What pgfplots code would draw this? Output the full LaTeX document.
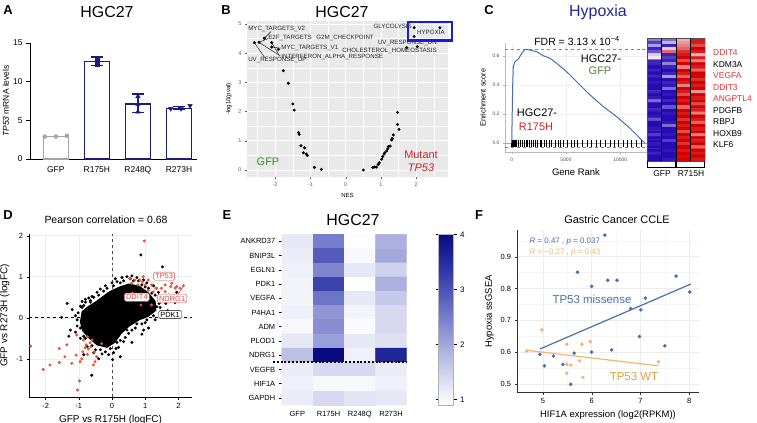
\documentclass[border=0pt]{standalone}
\usepackage{fontspec}
\setmainfont{Liberation Sans}
\usepackage{pgfplots}
\pgfplotsset{compat=1.18}
\newcommand{\fs}[1]{\fontsize{#1}{#1}\selectfont}
\definecolor{navyA}{RGB}{28,28,125}
\definecolor{grayA}{RGB}{165,165,165}
\definecolor{ggbg}{RGB}{233,233,233}
\definecolor{boxblue}{RGB}{25,25,225}
\definecolor{gfpgreen}{RGB}{40,150,40}
\definecolor{mutred}{RGB}{205,35,35}
\definecolor{hypblue}{RGB}{35,35,160}
\definecolor{olivegreen}{RGB}{80,125,50}
\definecolor{curveblue}{RGB}{70,110,175}
\definecolor{dashred}{RGB}{235,90,90}
\definecolor{genered}{RGB}{235,45,45}
\definecolor{ptred}{RGB}{232,80,55}
\definecolor{lblred}{RGB}{230,70,70}
\definecolor{fblue}{RGB}{72,112,170}
\definecolor{forange}{RGB}{245,180,110}
\definecolor{fwt}{RGB}{215,160,60}
\pgfplotsset{/pgf/number format/assume math mode=true}
\begin{document}
\begin{tikzpicture}
\path[use as bounding box] (0,0) rectangle (757bp,-423bp);
% panel letters
\node[font=\fs{13}\bfseries] at (8bp,-10bp) {A};
\node[font=\fs{13}\bfseries] at (226bp,-10bp) {B};
\node[font=\fs{13}\bfseries] at (489bp,-10bp) {C};
\node[font=\fs{13}\bfseries] at (8bp,-215bp) {D};
\node[font=\fs{13}\bfseries] at (227bp,-215bp) {E};
\node[font=\fs{13}\bfseries] at (479bp,-215bp) {F};
% ---------------- A ----------------
\node[font=\fs{16}] at (107bp,-12bp) {HGC27};
\begin{axis}[at={(30bp,-159bp)}, anchor=south west, scale only axis,
  width=167bp, height=116bp, xmin=-0.63, xmax=3.44, ymin=0, ymax=15,
  axis x line*=bottom, axis y line*=left,
  axis line style={line width=0.9bp, -},
  xtick={0,1,2,3}, xticklabels={GFP,R175H,R248Q,R273H},
  major x tick style={draw=none},
  ytick={0,5,10,15}, tick align=outside, major tick length=4bp,
  tick style={line width=0.9bp, black},
  tick label style={font=\fs{8.5}},
  ylabel={\textit{TP53} mRNA levels},
  ylabel style={font=\fs{8.5}, at={(axis description cs:-0.145,0.5)}, anchor=center},
  clip=false]
\addplot[ybar, bar width=25bp, bar shift=0pt, draw=grayA, fill=white, line width=1.6bp] coordinates {(0,2.9)};
\addplot[ybar, bar width=25bp, bar shift=0pt, draw=navyA, fill=white, line width=1.6bp,
  error bars/.cd, y dir=both, y explicit,
  error bar style={line width=1.2bp, navyA},
  error mark options={rotate=90, mark size=6bp, line width=1.2bp, navyA}]
  coordinates {(1,12.6) += (0,0.6) -= (0,0.5) (2,7.1) += (0,1.3) -= (0,1.1) (3,6.55) += (0,0.25) -= (0,0.2)};
\addplot[only marks, mark=*, mark size=2bp, grayA] coordinates {(-0.27,2.9) (0,2.9) (0.27,3.0)};
\addplot[only marks, mark=square*, mark size=2bp, navyA] coordinates {(1,12.9) (1,12.2) (1,12.7)};
\addplot[only marks, mark=triangle*, mark size=2.6bp, navyA] coordinates {(2,8.1) (2,6.1) (2,7.1)};
\addplot[only marks, mark=triangle*, mark options={rotate=180}, mark size=2.6bp, navyA] coordinates {(2.8,6.5) (3.05,6.5) (3.27,6.9)};
\end{axis}
% ---------------- B ----------------
\node[font=\fs{16}] at (342bp,-12bp) {HGC27};
\begin{axis}[at={(247bp,-177bp)}, anchor=south west, scale only axis,
  width=201bp, height=156bp, xmin=-2.8, xmax=2.9, ymin=-0.24, ymax=5.1,
  axis line style={draw=none},
  xtick={-2,-1,0,1,2}, ytick={0,1,2,3,4,5},
  xtick pos=bottom, ytick pos=left,
  tick align=outside, major tick length=2bp,
  major tick style={gray!70!black, line width=0.4bp},
  tick label style={font=\fs{5.5}, text=gray!70!black},
  xlabel={NES}, ylabel={-log10(pval)}, label style={font=\fs{6}},
  unbounded coords=jump, clip=false]
\addplot[fill=ggbg, draw=none, forget plot] coordinates {(-2.8,-0.24) (2.9,-0.24) (2.9,5.1) (-2.8,5.1) (-2.8,-0.24)};
\addplot[white, line width=0.4bp, forget plot] coordinates {
(-2.5,-0.24) (-2.5,5.1) (nan,nan) (-1.5,-0.24) (-1.5,5.1) (nan,nan) (-0.5,-0.24) (-0.5,5.1) (nan,nan)
(0.5,-0.24) (0.5,5.1) (nan,nan) (1.5,-0.24) (1.5,5.1) (nan,nan) (2.5,-0.24) (2.5,5.1) (nan,nan)
(-2.8,0.5) (2.9,0.5) (nan,nan) (-2.8,1.5) (2.9,1.5) (nan,nan) (-2.8,2.5) (2.9,2.5) (nan,nan)
(-2.8,3.5) (2.9,3.5) (nan,nan) (-2.8,4.5) (2.9,4.5)};
\addplot[white, line width=0.8bp, forget plot] coordinates {
(-2,-0.24) (-2,5.1) (nan,nan) (-1,-0.24) (-1,5.1) (nan,nan) (0,-0.24) (0,5.1) (nan,nan)
(1,-0.24) (1,5.1) (nan,nan) (2,-0.24) (2,5.1) (nan,nan)
(-2.8,0) (2.9,0) (nan,nan) (-2.8,1) (2.9,1) (nan,nan) (-2.8,2) (2.9,2) (nan,nan)
(-2.8,3) (2.9,3) (nan,nan) (-2.8,4) (2.9,4) (nan,nan) (-2.8,5) (2.9,5)};
\draw[black, line width=0.4bp] (axis cs:-2.31,4.51) -- (axis cs:-2.12,4.74);
\draw[black, line width=0.4bp] (axis cs:-2.46,4.37) -- (axis cs:-2.2,4.5);
\draw[black, line width=0.4bp] (axis cs:-2.46,4.37) -- (axis cs:-1.85,3.9);
\draw[black, line width=0.4bp] (axis cs:-2.10,4.21) -- (axis cs:-1.85,4.17);
\draw[black, line width=0.4bp] (axis cs:-2.10,4.36) -- (axis cs:-1.9,3.95);
\draw[black, line width=0.4bp] (axis cs:-2.59,4.36) -- (axis cs:-2.3,3.85);
\addplot[only marks, mark=*, mark size=1.3bp, black] coordinates {
(-2.59,4.36) (-2.46,4.37) (-2.31,4.51) (-2.10,4.36) (-2.10,4.21) (-1.91,4.13) (-1.77,3.40) (-1.63,2.97)
(-1.50,2.26) (-1.46,2.05) (-1.34,1.28) (-1.32,1.22) (-1.27,0.83) (-1.17,0.76) (-1.20,0.59) (-1.12,0.55)
(-1.09,0.50) (-0.89,0.09) (-0.69,0.02)
(0.50,0.0) (0.77,0.09) (0.82,0.10) (0.87,0.10) (0.92,0.19) (0.95,0.25) (1.02,0.37) (1.05,0.46)
(1.09,0.55) (1.11,0.59) (1.16,0.65) (1.19,0.72) (1.21,0.80) (1.26,0.82) (1.30,1.03) (1.32,1.08)
(1.35,1.20) (1.51,1.39) (1.47,1.56) (1.47,1.97) (1.73,4.19) (2.03,4.22) (1.94,4.87) (1.94,4.57) (2.67,4.87)};
\begin{scope}[font=\fs{6.2}, text=black!85, inner sep=0pt]
\node[anchor=west] at (axis cs:-2.77,4.83) {MYC\_TARGETS\_V2};
\node[anchor=west] at (axis cs:-2.20,4.51) {E2F\_TARGETS};
\node[anchor=east] at (axis cs:0.80,4.51) {G2M\_CHECKPOINT};
\node[anchor=west] at (axis cs:-1.83,4.17) {MYC\_TARGETS\_V1};
\node[anchor=west] at (axis cs:-1.83,3.86) {INTERFERON\_ALPHA\_RESPONSE};
\node[anchor=west] at (axis cs:-2.77,3.77) {UV\_RESPONSE\_UP};
\node[anchor=east] at (axis cs:1.88,4.93) {GLYCOLYSIS};
\node[anchor=west] at (axis cs:2.02,4.72) {HYPOXIA};
\node[anchor=west] at (axis cs:0.91,4.36) {UV\_RESPONSE\_DN};
\node[anchor=west] at (axis cs:-0.10,4.09) {CHOLESTEROL\_HOMEOSTASIS};
\end{scope}
\end{axis}
\draw[boxblue, line width=2.5bp] (408bp,-22bp) rectangle (452bp,-40.5bp);
\node[font=\fs{11}, text=gfpgreen] at (268bp,-162bp) {GFP};
\node[font=\fs{11}, text=mutred] at (421bp,-155bp) {Mutant};
\node[font=\fs{11}\itshape, text=mutred] at (421bp,-168bp) {TP53};
% ---------------- C ----------------
\node[font=\fs{16}, text=hypblue] at (598bp,-12bp) {Hypoxia};
\begin{axis}[at={(505bp,-152.3bp)}, anchor=south west, scale only axis,
  width=142bp, height=109.3bp, xmin=-617, xmax=12460, ymin=-0.062, ymax=0.687,
  axis x line*=bottom, axis y line*=left,
  axis line style={gray!55, line width=0.5bp, -},
  grid=major, grid style={gray!12, line width=0.4bp},
  xtick={0,5000,10000}, ytick={0,0.2,0.4,0.6}, yticklabels={0.0,0.2,0.4,0.6},
  scaled x ticks=false, xticklabel style={/pgf/number format/1000 sep={}},
  tick align=outside, major tick length=2bp, tick style={gray!60},
  tick label style={font=\fs{5}, text=gray!60!black},
  xlabel={Gene Rank}, ylabel={Enrichment score},
  xlabel style={font=\fs{9.5}}, ylabel style={font=\fs{7.5}},
  clip mode=individual]
\addplot[gray!70, line width=0.5bp] coordinates {(-617,0) (12460,0)};
\addplot[dashred, dashed, line width=0.6bp] coordinates {(-617,0.644) (12460,0.644)};
\addplot[dashred, dashed, line width=0.6bp] coordinates {(-617,-0.027) (12460,-0.027)};
\addplot[only marks, mark=|, mark size=3.3bp, black, mark options={line width=0.5bp}] coordinates {
(0,0) (20,0) (50,0) (92,0) (120,0) (150,0) (184,0) (230,0) (276,0) (320,0) (368,0) (400,0) (460,0)
(614,0) (829,0) (1013,0) (1166,0) (1320,0) (1443,0) (1627,0) (1842,0) (1995,0) (2149,0) (2364,0)
(2609,0) (2763,0) (3008,0) (3223,0) (3469,0) (3683,0) (3990,0) (4297,0) (4512,0) (4758,0) (5126,0)
(5525,0) (5740,0) (6047,0) (6538,0) (6968,0) (7367,0) (7766,0) (8134,0) (8595,0) (9055,0) (9423,0)
(9822,0) (10282,0) (10650,0) (11049,0) (11448,0) (11970,0)};
\addplot[curveblue, line width=1bp] coordinates {
(0,0) (92,0.40) (147,0.525) (304,0.559) (608,0.577) (921,0.616) (1225,0.644) (1685,0.639)
(2302,0.627) (2910,0.60) (3527,0.582) (4144,0.548) (5064,0.490) (5985,0.422) (7210,0.331)
(8435,0.251) (9669,0.182) (10893,0.103) (11814,0.034) (12274,0)};
\end{axis}
\node[font=\fs{10.5}] at (577bp,-41bp) {FDR = 3.13 x 10\textsuperscript{−4}};
\node[font=\fs{11}] at (601bp,-59bp) {HGC27-};
\node[font=\fs{11}, text=olivegreen] at (600bp,-71bp) {GFP};
\node[font=\fs{11}] at (537bp,-113bp) {HGC27-};
\node[font=\fs{11}, text=mutred] at (536bp,-127bp) {R175H};
\begin{axis}[at={(647bp,-161bp)}, anchor=south west, scale only axis,
  width=58bp, height=123bp, xmin=-0.5, xmax=3.5, ymin=-0.5, ymax=39.5,
  y dir=reverse, hide axis,
  colormap={bwr}{rgb255(0cm)=(40,10,180); rgb255(1cm)=(255,255,255); rgb255(2cm)=(210,0,0)},
  point meta min=-1, point meta max=1]
\addplot[matrix plot*, mesh/cols=4, point meta=explicit] table[meta=c, row sep=\\] {
x y c\\
0 0 -0.5\\ 1 0 -0.6\\ 2 0 0.3\\ 3 0 0.9\\
0 1 -0.8\\ 1 1 -0.3\\ 2 1 0.4\\ 3 1 0.9\\
0 2 -0.4\\ 1 2 -0.9\\ 2 2 0.5\\ 3 2 0.7\\
0 3 -0.9\\ 1 3 -0.2\\ 2 3 0.6\\ 3 3 1.0\\
0 4 -0.7\\ 1 4 0.6\\ 2 4 0.8\\ 3 4 0.9\\
0 5 -0.2\\ 1 5 -0.9\\ 2 5 0.9\\ 3 5 0.3\\
0 6 0.1\\ 1 6 -0.8\\ 2 6 1.0\\ 3 6 0.9\\
0 7 -0.9\\ 1 7 -0.9\\ 2 7 0.7\\ 3 7 0.5\\
0 8 -0.9\\ 1 8 -0.5\\ 2 8 1.0\\ 3 8 1.0\\
0 9 -1.0\\ 1 9 -0.9\\ 2 9 0.5\\ 3 9 0.9\\
0 10 -0.9\\ 1 10 -1.0\\ 2 10 1.0\\ 3 10 0.6\\
0 11 -1.0\\ 1 11 -0.9\\ 2 11 0.9\\ 3 11 1.0\\
0 12 -0.9\\ 1 12 -0.4\\ 2 12 0.6\\ 3 12 1.0\\
0 13 -1.0\\ 1 13 -1.0\\ 2 13 1.0\\ 3 13 0.8\\
0 14 -0.95\\ 1 14 -0.9\\ 2 14 0.9\\ 3 14 1.0\\
0 15 -1.0\\ 1 15 -0.95\\ 2 15 0.5\\ 3 15 0.9\\
0 16 -1.0\\ 1 16 -0.6\\ 2 16 1.0\\ 3 16 1.0\\
0 17 -0.9\\ 1 17 -1.0\\ 2 17 0.9\\ 3 17 0.4\\
0 18 -1.0\\ 1 18 -0.95\\ 2 18 0.7\\ 3 18 1.0\\
0 19 -0.95\\ 1 19 -1.0\\ 2 19 1.0\\ 3 19 0.9\\
0 20 -0.6\\ 1 20 -0.9\\ 2 20 0.9\\ 3 20 1.0\\
0 21 -1.0\\ 1 21 -1.0\\ 2 21 1.0\\ 3 21 0.7\\
0 22 -1.0\\ 1 22 -0.7\\ 2 22 0.6\\ 3 22 1.0\\
0 23 -0.9\\ 1 23 -1.0\\ 2 23 1.0\\ 3 23 0.9\\
0 24 -1.0\\ 1 24 -0.95\\ 2 24 0.9\\ 3 24 0.5\\
0 25 -0.95\\ 1 25 -1.0\\ 2 25 1.0\\ 3 25 1.0\\
0 26 -0.7\\ 1 26 -1.0\\ 2 26 0.8\\ 3 26 0.9\\
0 27 -1.0\\ 1 27 -0.95\\ 2 27 1.0\\ 3 27 0.6\\
0 28 -1.0\\ 1 28 -0.6\\ 2 28 0.9\\ 3 28 1.0\\
0 29 -0.95\\ 1 29 -1.0\\ 2 29 1.0\\ 3 29 0.9\\
0 30 -1.0\\ 1 30 -1.0\\ 2 30 0.7\\ 3 30 1.0\\
0 31 -0.8\\ 1 31 -0.95\\ 2 31 1.0\\ 3 31 0.5\\
0 32 -1.0\\ 1 32 -1.0\\ 2 32 0.9\\ 3 32 1.0\\
0 33 -1.0\\ 1 33 -0.8\\ 2 33 1.0\\ 3 33 0.9\\
0 34 -0.95\\ 1 34 -1.0\\ 2 34 0.8\\ 3 34 1.0\\
0 35 -1.0\\ 1 35 -1.0\\ 2 35 1.0\\ 3 35 0.6\\
0 36 -1.0\\ 1 36 -0.95\\ 2 36 0.9\\ 3 36 1.0\\
0 37 -0.9\\ 1 37 -1.0\\ 2 37 1.0\\ 3 37 0.9\\
0 38 -1.0\\ 1 38 -1.0\\ 2 38 0.95\\ 3 38 1.0\\
0 39 -1.0\\ 1 39 -0.95\\ 2 39 1.0\\ 3 39 0.9\\
};
\draw[black, line width=0.6bp] (axis cs:0.5,-0.5) -- (axis cs:0.5,39.5);
\draw[black, line width=1bp] (axis cs:1.5,-0.5) -- (axis cs:1.5,39.5);
\draw[black, line width=0.6bp] (axis cs:2.5,-0.5) -- (axis cs:2.5,39.5);
\draw[black!70, line width=0.4bp] (axis cs:-0.5,-0.5) rectangle (axis cs:3.5,39.5);
\end{axis}
\draw[black, line width=0.6bp] (647.5bp,-161bp) -- (647.5bp,-167bp) -- (675.5bp,-167bp) -- (675.5bp,-161bp);
\draw[black, line width=0.6bp] (676.5bp,-161bp) -- (676.5bp,-167bp) -- (704.5bp,-167bp) -- (704.5bp,-161bp);
\node[font=\fs{8.5}] at (662bp,-174bp) {GFP};
\node[font=\fs{8.5}] at (691bp,-174bp) {R715H};
\begin{scope}[font=\fs{8.5}, anchor=west, inner sep=0pt]
\node[anchor=west, text=genered] at (713bp,-53bp) {DDIT4};
\node[anchor=west] at (713bp,-64.5bp) {KDM3A};
\node[anchor=west, text=genered] at (713bp,-76bp) {VEGFA};
\node[anchor=west, text=genered] at (713bp,-87.5bp) {DDIT3};
\node[anchor=west, text=genered] at (713bp,-99bp) {ANGPTL4};
\node[anchor=west] at (713bp,-110.5bp) {PDGFB};
\node[anchor=west] at (713bp,-122bp) {RBPJ};
\node[anchor=west] at (713bp,-133.5bp) {HOXB9};
\node[anchor=west] at (713bp,-145bp) {KLF6};
\end{scope}
% ---------------- D ----------------
\node[font=\fs{10.5}] at (106bp,-220bp) {Pearson correlation = 0.68};
\begin{axis}[at={(29bp,-397bp)}, anchor=south west, scale only axis,
  width=163bp, height=163bp, xmin=-2.5, xmax=2.41, ymin=-1.93, ymax=2.04,
  axis x line*=bottom, axis y line*=left,
  axis line style={black, line width=0.8bp, -},
  grid=major, grid style={gray!15, line width=0.5bp},
  xtick={-2,-1,0,1,2}, ytick={-1,0,1,2},
  tick align=outside, major tick length=2.5bp, tick style={black},
  tick label style={font=\fs{7.5}},
  xlabel={GFP vs R175H (logFC)}, ylabel={GFP vs R273H (logFC)},
  label style={font=\fs{10}}, clip mode=individual]
\addplot[dashed, gray!60!black, line width=0.8bp] coordinates {(0,-1.93) (0,2.04)};
\addplot[dashed, black, line width=0.7bp] coordinates {(-2.5,0) (2.41,0)};
\addplot[fill=black, draw=black, line width=1bp] coordinates {
(-0.95,-0.1) (-0.9,0.15) (-0.72,0.27) (-0.5,0.38) (-0.3,0.5) (-0.1,0.62) (0.2,0.74) (0.5,0.82)
(0.82,0.77) (1.1,0.6) (1.3,0.4) (1.32,0.18) (1.1,0.04) (0.82,-0.05) (0.52,-0.2) (0.28,-0.38)
(0.08,-0.6) (-0.15,-0.72) (-0.45,-0.66) (-0.68,-0.5) (-0.88,-0.32) (-0.95,-0.1)};
\addplot[only marks, mark=*, mark size=1.3bp, black] coordinates {
(0.87,1.53) (1.52,1.24) (-1.52,0.01) (-0.61,-1.40) (0.02,-1.02) (1.90,0.37) (1.62,0.35) (1.68,0.17)
(1.45,0.08) (1.2,0.3) (1.35,0.27) (1.55,0.45) (1.7,0.55) (1.95,0.62)
(-1.1,0.05) (-1.05,-0.2) (-0.9,0.4) (-0.8,0.38) (-0.7,0.48) (-0.6,0.52) (-0.45,0.62) (-0.35,0.7)
(-0.2,0.78) (0,0.85) (0.1,0.95) (0.3,0.98) (0.45,1.0) (0.6,1.02) (0.75,0.98) (0.95,0.92) (1.05,0.85)
(1.25,0.78) (1.4,0.62) (1.5,0.5) (1.3,-0.05) (1.0,-0.12) (0.7,-0.25) (0.5,-0.38) (0.35,-0.58)
(0.2,-0.72) (0.05,-0.85) (-0.1,-0.9) (-0.3,-0.88) (-0.55,-0.85) (-0.75,-0.7) (-0.95,-0.5) (-1.1,-0.35)
(-1.25,-0.3) (-1.3,-0.45) (-1.2,0.2) (-1.35,0.35) (-0.85,-0.9) (-0.4,-1.0) (0.25,-0.95) (0.6,-0.6)
(0.9,-0.4) (0.95,-0.3) (1.1,-0.25) (-0.85,0.3) (-0.65,0.42) (-0.95,0.28)
(-0.9,0.25) (-0.8,0.45) (-0.65,0.38) (-0.55,0.5) (-0.4,0.55) (-0.25,0.65) (-0.15,0.72) (0.05,0.78)
(0.15,0.88) (0.25,0.85) (0.35,0.9) (0.55,0.95) (0.65,0.9) (0.8,0.9) (0.9,0.8) (1.0,0.75) (1.1,0.72)
(1.2,0.6) (1.3,0.55) (1.42,0.35) (1.45,0.25) (1.25,0.05) (1.05,-0.05) (0.9,-0.15) (0.75,-0.15)
(0.6,-0.3) (0.45,-0.3) (0.4,-0.48) (0.25,-0.55) (0.15,-0.6) (0.12,-0.75) (-0.05,-0.75) (-0.2,-0.83)
(-0.35,-0.78) (-0.5,-0.78) (-0.6,-0.68) (-0.8,-0.5) (-0.85,-0.45) (-0.95,-0.25) (-1.05,-0.05) (-1.02,0.12)};
\addplot[only marks, mark=*, mark size=1.3bp, ptred] coordinates {
(-2.45,-0.69) (-2.07,-1.26) (-1.87,-1.15) (-1.59,-1.09) (-1.59,-0.75) (-1.42,-0.95) (-1.21,-1.11)
(-1.08,-0.91) (-0.96,-1.07) (-0.98,-1.54) (-1.04,-1.76) (-0.81,-0.73) (-0.74,-0.89) (-0.66,-0.61)
(-0.56,-1.15) (-0.51,-1.07) (-0.86,-0.54) (-0.74,-0.46) (-0.64,-0.71) (-0.53,-0.83) (-0.88,-0.83)
(-0.71,-0.76) (-0.46,-0.95) (-0.31,-0.63) (-1.06,-0.42) (-0.78,-0.66) (-0.60,-0.54) (-0.91,-1.0) (-1.36,-0.66)
(0.97,1.87) (0.94,1.0) (1.09,0.92) (1.19,0.80) (1.32,0.72) (1.80,0.84) (1.95,0.76) (2.15,0.78)
(1.60,0.80) (0.84,0.92) (0.59,0.84) (1.24,0.63) (1.44,0.55) (0.87,0.31) (0.72,0.52) (0.62,0.60)
(1.09,0.67) (0.54,0.96) (0.69,0.92) (0.78,0.80) (0.92,0.88) (1.0,0.80) (1.35,0.72) (1.49,0.72)
(1.6,0.64) (1.77,0.76) (1.9,0.72) (2.05,0.72) (1.19,0.31) (1.45,0.39)};
\draw[lblred, line width=0.6bp] (axis cs:2.0,0.58) -- (axis cs:2.18,0.8);
\begin{scope}[font=\fs{7.5}, inner sep=1.6bp, rounded corners=1.5bp]
\node[draw=lblred, fill=white, text=lblred] at (axis cs:1.57,1.01) {TP53};
\node[draw=lblred, fill=white, text=lblred] at (axis cs:0.75,0.50) {DDIT4};
\node[draw=lblred, fill=white, text=lblred] at (axis cs:1.81,0.47) {NDRG1};
\node[draw=black, fill=white, text=black] at (axis cs:1.75,0.08) {PDK1};
\end{scope}
\end{axis}
% ---------------- E ----------------
\node[font=\fs{16}] at (353bp,-220bp) {HGC27};
\begin{axis}[at={(281.7bp,-405bp)}, anchor=south west, scale only axis,
  width=125bp, height=170.7bp, xmin=-0.5, xmax=3.5, ymin=-0.5, ymax=11.5,
  y dir=reverse, enlargelimits=false, axis line style={draw=none},
  xtick={0,1,2,3}, xticklabels={GFP,R175H,R248Q,R273H},
  ytick={0,1,2,3,4,5,6,7,8,9,10,11},
  yticklabels={ANKRD37,BNIP3L,EGLN1,PDK1,VEGFA,P4HA1,ADM,PLOD1,NDRG1,VEGFB,HIF1A,GAPDH},
  ytick pos=left, xtick pos=bottom, major x tick style={draw=none},
  tick align=outside, major tick length=3bp, tick style={black, line width=0.6bp},
  tick label style={font=\fs{7.5}},
  colormap={eblue}{rgb255(0cm)=(255,255,255); rgb255(1cm)=(205,208,236); rgb255(2cm)=(150,156,215); rgb255(3cm)=(95,103,192); rgb255(4cm)=(45,52,165); rgb255(5cm)=(10,10,130)},
  point meta min=0.9, point meta max=4,
  colorbar,
  colorbar style={at={(parent axis.north east)}, anchor=north west, xshift=23.3bp,
    scale only axis, width=15bp, ytick={1,2,3,4}, yticklabel pos=right,
    tick align=outside, major tick length=3bp, tick style={black, line width=0.6bp},
    tick label style={font=\fs{8}}, axis line style={gray!60, line width=0.4bp}},
  clip=false]
\addplot[matrix plot*, mesh/cols=4, point meta=explicit] table[meta=c, row sep=\\] {
x y c\\
0 0 1.2\\ 1 0 2.5\\ 2 0 0.92\\ 3 0 1.9\\
0 1 1.15\\ 1 1 2.9\\ 2 1 0.98\\ 3 1 2.0\\
0 2 1.1\\ 1 2 2.4\\ 2 2 1.2\\ 3 2 1.5\\
0 3 1.05\\ 1 3 3.2\\ 2 3 0.9\\ 3 3 1.9\\
0 4 1.05\\ 1 4 2.6\\ 2 4 1.2\\ 3 4 1.6\\
0 5 1.1\\ 1 5 2.2\\ 2 5 1.05\\ 3 5 1.4\\
0 6 1.0\\ 1 6 2.3\\ 2 6 0.95\\ 3 6 1.4\\
0 7 1.2\\ 1 7 2.1\\ 2 7 1.2\\ 3 7 1.3\\
0 8 1.7\\ 1 8 4.0\\ 2 8 1.1\\ 3 8 3.6\\
0 9 1.15\\ 1 9 1.4\\ 2 9 1.4\\ 3 9 1.15\\
0 10 1.1\\ 1 10 1.0\\ 2 10 1.0\\ 3 10 1.1\\
0 11 1.15\\ 1 11 1.4\\ 2 11 1.25\\ 3 11 1.2\\
};
\addplot[black, line width=1.8bp, dash pattern=on 2bp off 1.8bp] coordinates {(-0.78,8.5) (3.5,8.5)};
\end{axis}
% ---------------- F ----------------
\node[font=\fs{11}] at (617bp,-220bp) {Gastric Cancer CCLE};
\begin{axis}[at={(517bp,-392.7bp)}, anchor=south west, scale only axis,
  width=182bp, height=162.7bp, xmin=4.47, xmax=8.2, ymin=0.4726, ymax=0.984,
  axis x line*=bottom, axis y line*=left,
  axis line style={black!80, line width=0.8bp, -},
  grid=both, major grid style={gray!15, line width=0.5bp}, minor grid style={gray!8, line width=0.3bp},
  xtick={5,6,7,8}, ytick={0.5,0.6,0.7,0.8,0.9}, yticklabels={0.5,0.6,0.7,0.8,0.9},
  minor xtick={5.5,6.5,7.5}, minor ytick={0.55,0.65,0.75,0.85,0.95},
  tick align=outside, major tick length=2.5bp, minor tick length=0pt,
  tick style={black!80},
  tick label style={font=\fs{7.5}},
  xlabel={HIF1A expression (log2(RPKM))}, ylabel={Hypoxia ssGSEA},
  label style={font=\fs{9.5}}, clip mode=individual]
\addplot[only marks, mark=*, mark size=1.6bp, fblue] coordinates {
(6.27,0.968) (5.71,0.851) (6.0,0.807) (6.33,0.826) (6.52,0.826) (7.73,0.839) (8.01,0.789) (7.10,0.770)
(6.80,0.737) (7.01,0.733) (6.98,0.649) (7.50,0.620) (6.41,0.607) (6.0,0.600) (5.64,0.597) (4.94,0.593)
(5.22,0.588) (5.03,0.557) (5.41,0.562) (5.57,0.499)};
\addplot[only marks, mark=*, mark size=1.6bp, forange] coordinates {
(4.98,0.670) (4.67,0.604) (5.49,0.625) (5.80,0.625) (5.97,0.633) (5.75,0.573) (5.49,0.562) (5.57,0.559)
(5.49,0.534) (5.82,0.521) (7.37,0.570)};
\addplot[fblue, line width=1.2bp] coordinates {(4.94,0.610) (8.03,0.814)};
\addplot[forange, line width=1.2bp] coordinates {(4.67,0.606) (7.37,0.557)};
\end{axis}
\node[font=\fs{8}, text=fblue, anchor=west] at (526bp,-242bp) {\textit{R} = 0.47 , \textit{p} = 0.037};
\node[font=\fs{8}, text=forange, anchor=west] at (526bp,-253bp) {\textit{R} = −0.27 , \textit{p} = 0.43};
\node[font=\fs{11.5}, text=fblue] at (592bp,-299bp) {TP53 missense};
\node[font=\fs{11.5}, text=fwt] at (634bp,-377bp) {TP53 WT};
\end{tikzpicture}
\end{document}
